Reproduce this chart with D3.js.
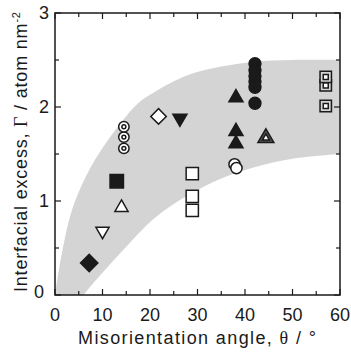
<!DOCTYPE html>
<html>
<head>
<meta charset="utf-8">
<script src="https://cdn.jsdelivr.net/npm/d3@7"></script>
<style>
  body { margin: 0; background: #fff; }
  text { font-family: "Liberation Sans", Arial, sans-serif; fill: #1a1a1a; }
</style>
</head>
<body>
<svg id="chart" width="351" height="352"></svg>
<script>
// values: [angle (deg), excess (atom/nm2)]
var blackDiamond = [[7.2, 0.34]];
var openInvTri = [[10.0, 0.68]];
var openTri = [[14.0, 0.93]];
var blackSquare = [[13.0, 1.21]];
var ringCircle = [[14.5, 1.56], [14.5, 1.68], [14.5, 1.79]];
var openDiamond = [[21.8, 1.90]];
var blackInvTri = [[26.3, 1.88]];
var openSquare = [[28.9, 1.29], [28.9, 1.05], [28.9, 0.90]];
var blackTri = [[38.1, 2.10], [38.1, 1.74], [38.1, 1.61]];
var openCircle = [[37.8, 1.39], [38.2, 1.35]];
var triInTri = [[44.4, 1.67]];
var blackCircle = [[42.1, 2.46], [42.1, 2.39], [42.1, 2.33], [42.1, 2.27], [42.1, 2.21], [42.1, 2.04]];
var sqInSq = [[57.0, 2.23], [57.0, 2.32], [57.0, 2.01]];

// grey band edges
var bandUpper = [[0, 0], [1.4, 0.43], [3.5, 0.89], [7, 1.31], [10.5, 1.6], [14, 1.84], [17.5, 2.04],
  [21, 2.16], [28, 2.34], [35, 2.43], [41.5, 2.48], [50, 2.5], [60, 2.5]];
var bandLower = [[6, 0], [9, 0.18], [14, 0.46], [21, 0.82], [28, 1.06], [35, 1.24], [42, 1.36],
  [50, 1.45], [60, 1.5]];

var xTicks = [0, 10, 20, 30, 40, 50, 60];
var yTicks = [0, 1, 2, 3];

var svg = d3.select("#chart");
var L = 55, R = 340, T = 13, B = 295;

var x = d3.scaleLinear().domain([0, 60]).range([L, R]);
var y = d3.scaleLinear().domain([0, 3]).range([B, T]);

svg.append("clipPath").attr("id", "plotclip")
  .append("rect").attr("x", L).attr("y", T).attr("width", R - L).attr("height", B - T);

var line = d3.line()
  .x(function (d) { return x(d[0]); })
  .y(function (d) { return y(d[1]); })
  .curve(d3.curveCatmullRom.alpha(0.5));

var up = line(bandUpper);
var lo = line(bandLower.slice().reverse());
svg.append("path")
  .attr("clip-path", "url(#plotclip)")
  .attr("d", up + "L" + lo.slice(1) + "Z")
  .attr("fill", "#d4d4d4");

// ticks, inward on all four sides
var g = svg.append("g").attr("stroke", "#1a1a1a").attr("stroke-width", 1.2);
d3.range(0, 61, 5).forEach(function (v) {
  var len = v % 10 === 0 ? 6 : 4;
  g.append("line").attr("x1", x(v)).attr("x2", x(v)).attr("y1", B).attr("y2", B - len);
  g.append("line").attr("x1", x(v)).attr("x2", x(v)).attr("y1", T).attr("y2", T + len);
});
d3.range(0, 3.01, 0.5).forEach(function (v) {
  var len = v % 1 === 0 ? 6 : 4;
  g.append("line").attr("y1", y(v)).attr("y2", y(v)).attr("x1", L).attr("x2", L + len);
  g.append("line").attr("y1", y(v)).attr("y2", y(v)).attr("x1", R).attr("x2", R - len);
});
svg.append("rect").attr("x", L).attr("y", T).attr("width", R - L).attr("height", B - T)
  .attr("fill", "none").attr("stroke", "#1a1a1a").attr("stroke-width", 1.5);

// tick labels
svg.selectAll(".xt").data(xTicks).enter().append("text")
  .attr("x", function (d) { return x(d); })
  .attr("y", 321)
  .attr("text-anchor", "middle")
  .attr("font-size", 18)
  .text(function (d) { return d; });
svg.selectAll(".yt").data(yTicks).enter().append("text")
  .attr("x", function (d) { return d === 0 ? 44 : 49; })
  .attr("y", function (d) { return d === 0 ? y(d) + 3 : y(d) + 6; })
  .attr("text-anchor", "end")
  .attr("font-size", 18)
  .text(function (d) { return d; });

// axis titles
var xl = svg.append("text").attr("x", 197).attr("y", 344).attr("text-anchor", "middle")
  .attr("font-size", 18).attr("textLength", 238).attr("lengthAdjust", "spacing");
xl.append("tspan").text("Misorientation angle, ");
xl.append("tspan").attr("font-family", "'Liberation Serif', serif").text("\u03b8");
xl.append("tspan").text(" / \u00b0");

var yl = svg.append("text").attr("transform", "translate(27,152) rotate(-90)")
  .attr("text-anchor", "middle").attr("font-size", 18)
  .attr("textLength", 280).attr("lengthAdjust", "spacing");
yl.append("tspan").text("Interfacial excess, ");
yl.append("tspan").attr("font-family", "'Liberation Serif', serif").text("\u0393");
yl.append("tspan").text(" / atom nm");
yl.append("tspan").attr("dy", -7).attr("font-size", 11).text("-2");

// markers
var ink = "#1a1a1a";
function pts(data, type, size, fill, rot) {
  svg.append("g").selectAll("path").data(data).enter().append("path")
    .attr("transform", function (d) {
      return "translate(" + x(d[0]) + "," + y(d[1]) + ")" + (rot ? " rotate(" + rot + ")" : "");
    })
    .attr("d", d3.symbol().type(type).size(size))
    .attr("fill", fill)
    .attr("stroke", ink)
    .attr("stroke-width", 1.5);
}

pts(openSquare, d3.symbolSquare, 150, "#fff");
pts(blackSquare, d3.symbolSquare, 180, ink);
pts(blackDiamond, d3.symbolSquare, 150, ink, 45);
pts(openDiamond, d3.symbolSquare, 120, "#fff", 45);
pts(openInvTri, d3.symbolTriangle, 75, "#fff", 180);
pts(openTri, d3.symbolTriangle, 75, "#fff");
pts(blackInvTri, d3.symbolTriangle, 85, ink, 180);
pts(blackTri, d3.symbolTriangle, 85, ink);
pts(ringCircle, d3.symbolCircle, 85, "#fff");
pts(ringCircle, d3.symbolCircle, 12, "#fff");
pts(openCircle, d3.symbolCircle, 100, "#fff");
pts(blackCircle, d3.symbolCircle, 110, ink);
pts(triInTri, d3.symbolTriangle, 110, "#555");
pts(triInTri, d3.symbolTriangle, 22, "#fff");
pts(sqInSq, d3.symbolSquare, 130, "#d4d4d4");
pts(sqInSq, d3.symbolSquare, 25, "#fff");
</script>
</body>
</html>
